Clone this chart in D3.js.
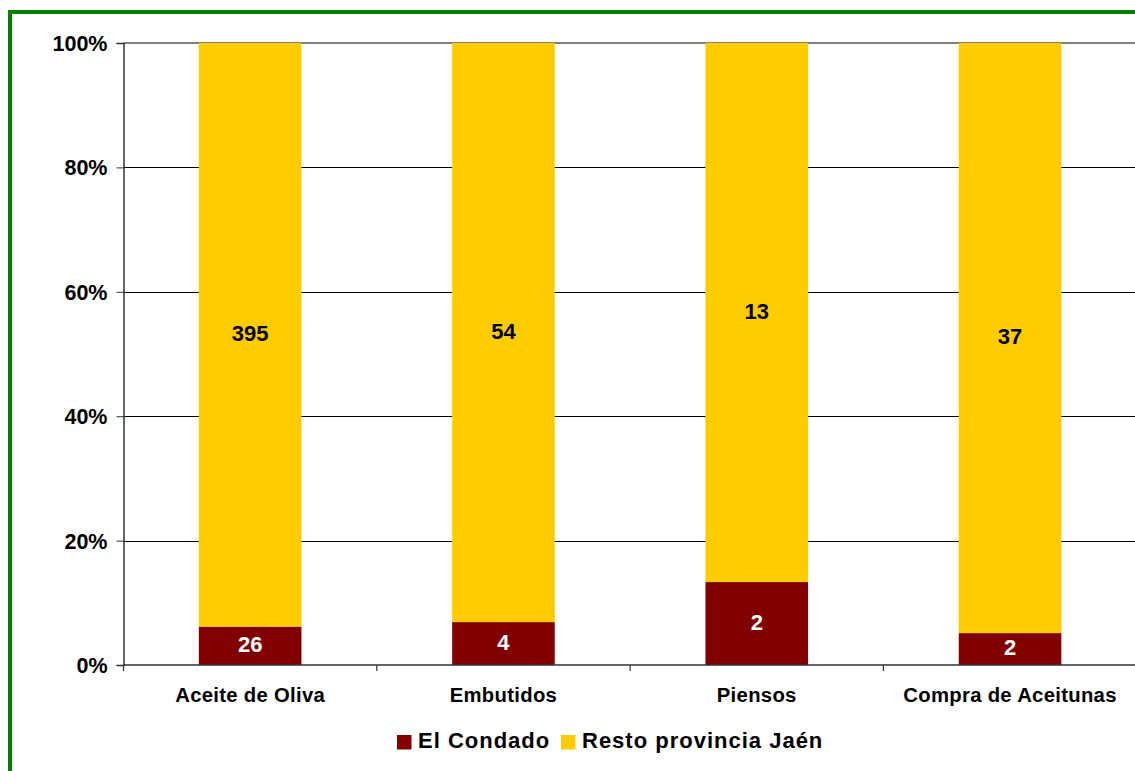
<!DOCTYPE html>
<html><head><meta charset="utf-8">
<script src="https://cdn.jsdelivr.net/npm/d3@7"></script>
<style>
html,body{margin:0;padding:0;background:#fff;overflow:hidden;}
svg{display:block;font-family:"Liberation Sans",Arial,sans-serif;font-weight:bold;}
</style></head>
<body><svg id="c" width="1135" height="771"></svg>
<script>
const categories = ["Aceite de Oliva","Embutidos","Piensos","Compra de Aceitunas"];
const condado = [26,4,2,2];
const resto = [395,54,13,37];
const seriesNames = ["El Condado","Resto provincia Jaén"];
const yTicks = [0,0.2,0.4,0.6,0.8,1];

(function(){
const colors = ["#800000","#FFCC00"];
const svg = d3.select("#c");
const W = 1135, H = 771;
const pL = 123.5, pR = 1136.7, pT = 43, pB = 665;

// green frame
svg.append("rect").attr("x",10).attr("y",12).attr("width",W+20).attr("height",H+20)
  .attr("fill","none").attr("stroke","#008000").attr("stroke-width",4);

const x = d3.scaleBand().domain(categories).range([pL,pR]).paddingInner(0.595).paddingOuter(0.2975);
const y = d3.scaleLinear().domain([0,1]).range([pB,pT]);

// gridlines
svg.append("g").selectAll("line").data(yTicks.filter(t=>t>0&&t<1)).join("line")
  .attr("x1",pL).attr("x2",pR).attr("y1",d=>Math.round(y(d))+0.5).attr("y2",d=>Math.round(y(d))+0.5)
  .attr("stroke","#000").attr("stroke-width",1);
svg.append("line").attr("x1",pL).attr("x2",pR).attr("y1",y(1)).attr("y2",y(1))
  .attr("stroke","#808080").attr("stroke-width",2);

// stacked data
const rows = categories.map((c,i)=>({cat:c, a:condado[i], b:resto[i], tot:condado[i]+resto[i]}));
const g = svg.append("g");
rows.forEach(r=>{
  const pa = r.a/r.tot;
  const segs = [{v:r.a,y0:0,y1:pa,c:colors[0],tc:"#fff"},{v:r.b,y0:pa,y1:1,c:colors[1],tc:"#000"}];
  segs.forEach(s=>{
    g.append("rect").attr("x",x(r.cat)).attr("width",x.bandwidth())
      .attr("y",y(s.y1)).attr("height",y(s.y0)-y(s.y1)).attr("fill",s.c);
    const cy = (y(s.y0)+y(s.y1))/2;
    g.append("text").attr("x",x(r.cat)+x.bandwidth()/2).attr("y",cy+0.358*22-1.5)
      .attr("text-anchor","middle").attr("font-size",22).attr("fill",s.tc).text(s.v);
  });
});

// y axis
const ya = d3.axisLeft(y).tickValues(yTicks).tickFormat(d3.format(".0%")).tickSize(7).tickPadding(9);
const yg = svg.append("g").attr("transform",`translate(${pL},0)`).call(ya);
yg.select(".domain").attr("stroke","#333").attr("stroke-width",1.5);
yg.selectAll(".tick line").attr("stroke","#333");
yg.selectAll(".tick text").attr("font-size",21.5).attr("font-family","Liberation Sans, Arial, sans-serif")
  .attr("font-weight","bold").attr("fill","#000").attr("dy","0.35em");

// x axis
svg.append("line").attr("x1",pL).attr("x2",pR).attr("y1",pB).attr("y2",pB)
  .attr("stroke","#333").attr("stroke-width",1.5);
const bounds = d3.range(categories.length+1).map(i=>pL+i*(pR-pL)/categories.length);
svg.append("g").selectAll("line").data(bounds).join("line")
  .attr("x1",d=>d).attr("x2",d=>d).attr("y1",pB).attr("y2",pB+6).attr("stroke","#333").attr("stroke-width",1.2);
svg.append("g").selectAll("text").data(categories).join("text")
  .attr("x",d=>x(d)+x.bandwidth()/2).attr("y",702).attr("text-anchor","middle")
  .attr("font-size",20.3).attr("letter-spacing",0.3).attr("fill","#000").text(d=>d);

// legend
const leg = svg.append("g");
const legItems = [{n:seriesNames[0],c:colors[0],x:397},{n:seriesNames[1],c:colors[1],x:561}];
legItems.forEach(it=>{
  leg.append("rect").attr("x",it.x).attr("y",735).attr("width",14.5).attr("height",14.5).attr("fill",it.c);
  leg.append("text").attr("x",it.x+21).attr("y",747.5).attr("font-size",22).attr("letter-spacing",1)
    .attr("fill","#000").text(it.n);
});
})();
</script></body></html>
